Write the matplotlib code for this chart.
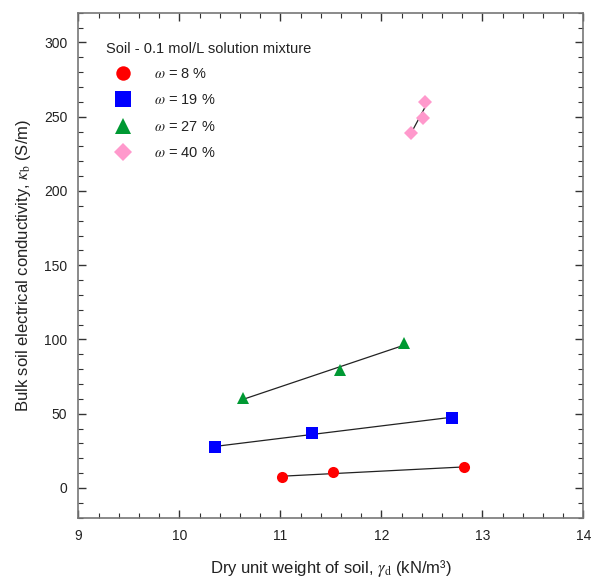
import numpy as np
import matplotlib
matplotlib.use("Agg")
import matplotlib.pyplot as plt
from matplotlib.ticker import MultipleLocator

plt.rcParams['font.family'] = ['Liberation Sans', 'DejaVu Sans']
plt.rcParams['mathtext.fontset'] = 'stix'

# Dry unit weight (kN/m^3) and bulk conductivity (S/m) per water content
x_w8 = [11.02, 11.52, 12.82]
y_w8 = [7.2, 10.7, 13.9]
x_w19 = [10.35, 11.31, 12.70]
y_w19 = [27.3, 37.1, 47.2]
x_w27 = [10.63, 11.59, 12.22]
y_w27 = [60.6, 79.2, 97.5]
x_w40 = [12.29, 12.41, 12.43]
y_w40 = [239.0, 248.8, 260.0]

labels = [r'$\omega$ = 8 %', r'$\omega$ = 19 %', r'$\omega$ = 27 %', r'$\omega$ = 40 %']
colors = ['#ff0000', '#0000ff', '#009933', '#ff99cc']
markers = ['o', 's', '^', 'D']
msizes = [8, 9, 9, 7]

fig = plt.figure(figsize=(5.92, 5.79), dpi=100)
ax = fig.add_axes([0.1323, 0.1059, 0.853, 0.8721])

series = [(x_w8, y_w8), (x_w19, y_w19), (x_w27, y_w27), (x_w40, y_w40)]
for (xs, ys), lab, c, m, ms in zip(series, labels, colors, markers, msizes):
    xs = np.asarray(xs)
    ys = np.asarray(ys)
    k, b = np.polyfit(xs, ys, 1)
    xf = np.array([xs.min(), xs.max()])
    ax.plot(xf, k * xf + b, color='#222222', lw=0.9, zorder=2)
    ax.plot(xs, ys, linestyle='none', marker=m, markersize=ms, color=c,
            markeredgewidth=0, label=lab, zorder=3)

ax.set_xlim(9, 14)
ax.set_ylim(-20, 320)
ax.xaxis.set_major_locator(MultipleLocator(1))
ax.xaxis.set_minor_locator(MultipleLocator(0.2))
ax.yaxis.set_major_locator(MultipleLocator(50))
ax.yaxis.set_minor_locator(MultipleLocator(10))

ax.tick_params(which='both', direction='in', top=True, right=True,
               color='#333333', labelsize=10, labelcolor='#222222')
ax.tick_params(which='major', length=6, width=1.0, pad=8)
ax.tick_params(which='minor', length=3.5, width=0.8)
for sp in ax.spines.values():
    sp.set_color('#777777')
    sp.set_linewidth(1.2)

ax.set_xlabel('Dry unit weight of soil, $\\gamma_{\\rm d}$ (kN/m\u00b3)',
              fontsize=12, color='#222222', labelpad=11)
ax.set_ylabel(r'Bulk soil electrical conductivity, $\kappa_{\rm b}$ (S/m)',
              fontsize=12, color='#222222', labelpad=8)

# legend heading drawn as its own text line
ax.text(0.054, 0.928, 'Soil - 0.1 mol/L solution mixture', transform=ax.transAxes,
        fontsize=10.5, color='#222222', ha='left', va='center')

leg = ax.legend(loc='upper left', bbox_to_anchor=(0.035, 0.913), frameon=False,
                fontsize=10.5, markerscale=1.3, handletextpad=1.0,
                handlelength=2.3, labelspacing=0.85, borderpad=0.2)
for t in leg.get_texts():
    t.set_color('#222222')

fig.savefig('out.png', dpi=100)
